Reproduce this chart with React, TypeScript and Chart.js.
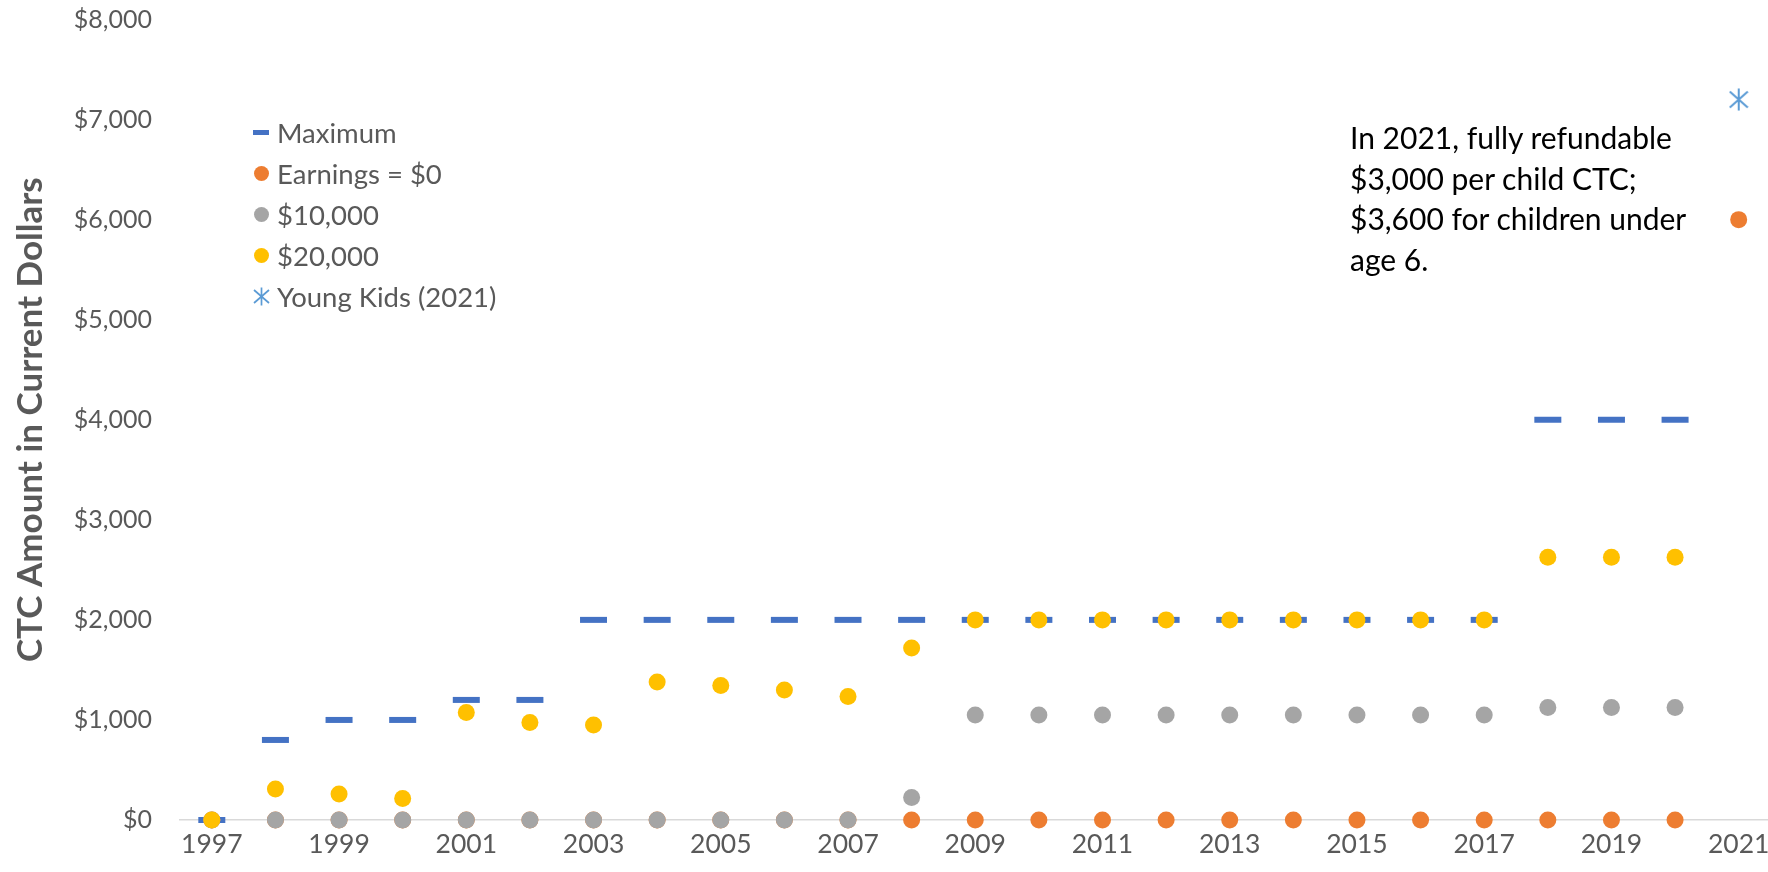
import React, { useEffect, useRef } from "react";
import { Chart, registerables } from "chart.js";

Chart.register(...registerables);

const years = [
  "1997", "1998", "1999", "2000", "2001", "2002", "2003", "2004", "2005",
  "2006", "2007", "2008", "2009", "2010", "2011", "2012", "2013", "2014",
  "2015", "2016", "2017", "2018", "2019", "2020", "2021",
];

const maximum = [
  0, 800, 1000, 1000, 1200, 1200, 2000, 2000, 2000, 2000, 2000, 2000, 2000,
  2000, 2000, 2000, 2000, 2000, 2000, 2000, 2000, 4000, 4000, 4000, null,
];

const earningsZero = [
  0, 0, 0, 0, 0, 0, 0, 0, 0, 0, 0, 0, 0, 0, 0, 0, 0, 0, 0, 0, 0, 0, 0, 0, 6000,
];

const earnings10k = [
  0, 0, 0, 0, 0, 0, 0, 0, 0, 0, 0, 225, 1050, 1050, 1050, 1050, 1050, 1050,
  1050, 1050, 1050, 1125, 1125, 1125, null,
];

const earnings20k = [
  0, 310, 260, 215, 1075, 975, 950, 1380, 1345, 1300, 1235, 1720, 2000, 2000,
  2000, 2000, 2000, 2000, 2000, 2000, 2000, 2625, 2625, 2625, null,
];

const youngKids = [
  null, null, null, null, null, null, null, null, null, null, null, null, null,
  null, null, null, null, null, null, null, null, null, null, null, 7200,
];

const seriesNames = ["Maximum", "Earnings = $0", "$10,000", "$20,000", "Young Kids (2021)"];

const yTitle = "CTC Amount in Current Dollars";
const noteLines = [
  "In 2021, fully refundable",
  "$3,000 per child CTC;",
  "$3,600 for children under",
  "age 6.",
];

const BLUE = "#4472C4";
const ORANGE = "#ED7D31";
const GRAY = "#A5A5A5";
const YELLOW = "#FFC000";
const STAR = "#5B9BD5";
const TEXT = "#595959";
const FONT = "Lato";

function makeStar(w: number, h: number): HTMLCanvasElement {
  const c = document.createElement("canvas");
  c.width = w;
  c.height = h;
  const ctx = c.getContext("2d")!;
  ctx.strokeStyle = STAR;
  ctx.lineWidth = 2;
  const cx = w / 2;
  const cy = h / 2;
  const hh = h / 2 - 0.5;
  const hw = w / 2 - 1;
  const dy = hh * 0.72;
  ctx.beginPath();
  ctx.moveTo(cx, cy - hh);
  ctx.lineTo(cx, cy + hh);
  ctx.moveTo(cx - hw, cy - dy);
  ctx.lineTo(cx + hw, cy + dy);
  ctx.moveTo(cx - hw, cy + dy);
  ctx.lineTo(cx + hw, cy - dy);
  ctx.stroke();
  return c;
}

function LegendMarker({ kind }: { kind: number }) {
  if (kind === 0) {
    return <span style={{ display: "inline-block", width: 16, height: 5, background: BLUE }} />;
  }
  if (kind === 4) {
    return (
      <svg width="17" height="19" viewBox="0 0 17 19">
        <g stroke={STAR} strokeWidth="1.7">
          <line x1="8.5" y1="0.5" x2="8.5" y2="18.5" />
          <line x1="1" y1="3" x2="16" y2="16" />
          <line x1="1" y1="16" x2="16" y2="3" />
        </g>
      </svg>
    );
  }
  const col = kind === 1 ? ORANGE : kind === 2 ? GRAY : YELLOW;
  return <span style={{ display: "inline-block", width: 15, height: 15, borderRadius: "50%", background: col }} />;
}

export default function App() {
  const ref = useRef<HTMLCanvasElement | null>(null);

  useEffect(() => {
    if (!ref.current) return;
    const star = makeStar(20, 23);
    const dot = (label: string, data: (number | null)[], color: string, order: number) => ({
      label,
      data,
      showLine: false,
      pointStyle: "circle" as const,
      pointRadius: 8.5,
      pointHoverRadius: 8.5,
      pointBorderWidth: 0,
      pointBackgroundColor: color,
      pointBorderColor: color,
      backgroundColor: color,
      borderColor: color,
      clip: false as const,
      order,
    });
    const chart = new Chart(ref.current, {
      type: "line",
      data: {
        labels: years,
        datasets: [
          {
            label: seriesNames[0],
            data: maximum,
            showLine: false,
            pointStyle: "line",
            pointRadius: 13.5,
            pointHoverRadius: 13.5,
            pointBorderWidth: 6,
            pointBorderColor: BLUE,
            pointBackgroundColor: BLUE,
            borderColor: BLUE,
            backgroundColor: BLUE,
            clip: false,
            order: 5,
          },
          dot(seriesNames[1], earningsZero, ORANGE, 4),
          dot(seriesNames[2], earnings10k, GRAY, 3),
          dot(seriesNames[3], earnings20k, YELLOW, 2),
          {
            label: seriesNames[4],
            data: youngKids,
            showLine: false,
            pointStyle: star,
            pointRadius: 10,
            pointHoverRadius: 10,
            borderColor: STAR,
            backgroundColor: STAR,
            clip: false,
            order: 1,
          },
        ],
      } as any,
      options: {
        responsive: false,
        animation: false,
        layout: { padding: { top: 10.7, right: 0, bottom: 0, left: 0 } },
        plugins: {
          legend: { display: false },
          tooltip: { enabled: false },
        },
        scales: {
          x: {
            type: "category",
            offset: true,
            grid: { display: false, drawTicks: false },
            border: { display: true, color: "#D9D9D9", width: 1.5 },
            ticks: {
              autoSkip: false,
              maxRotation: 0,
              minRotation: 0,
              padding: 9,
              color: TEXT,
              font: { family: FONT, size: 26.5 },
              callback: (_v: any, i: number) => (i % 2 === 0 ? years[i] : ""),
            },
            afterFit: (s: any) => {
              s.height = 52;
              s.paddingLeft = 0;
              s.paddingRight = 0;
            },
          },
          y: {
            min: 0,
            max: 8000,
            grid: { display: false, drawTicks: false },
            border: { display: false },
            ticks: {
              stepSize: 1000,
              padding: 28,
              color: TEXT,
              font: { family: FONT, size: 25 },
              callback: (v: any) => "$" + Number(v).toLocaleString("en-US"),
            },
            title: {
              display: true,
              text: yTitle,
              color: TEXT,
              font: { family: FONT, size: 35, weight: "bold" },
              padding: { top: 10, bottom: 0 },
            },
            afterFit: (s: any) => {
              s.width = 180;
              s.paddingTop = 0;
              s.paddingBottom = 0;
            },
          },
        },
      },
    });
    return () => chart.destroy();
  }, []);

  return (
    <div style={{ position: "fixed", left: 0, top: 0, width: 1768, height: 872, background: "#fff", overflow: "hidden" }}>
      <canvas ref={ref} width={1790} height={872} style={{ display: "block" }} />
      <div style={{ position: "absolute", left: 252, top: 112, fontFamily: FONT, fontSize: 27.5, color: TEXT }}>
        {seriesNames.map((n, i) => (
          <div key={n} style={{ display: "flex", alignItems: "center", height: 41, whiteSpace: "nowrap" }}>
            <span style={{ width: 18, marginRight: 7, display: "flex", justifyContent: "center", alignItems: "center" }}>
              <LegendMarker kind={i} />
            </span>
            <span>{n}</span>
          </div>
        ))}
      </div>
      <div style={{ position: "absolute", left: 1350, top: 117, fontFamily: FONT, fontSize: 30, lineHeight: "40.6px", color: "#000", whiteSpace: "nowrap" }}>
        {noteLines.map((l) => (
          <div key={l}>{l}</div>
        ))}
      </div>
    </div>
  );
}
